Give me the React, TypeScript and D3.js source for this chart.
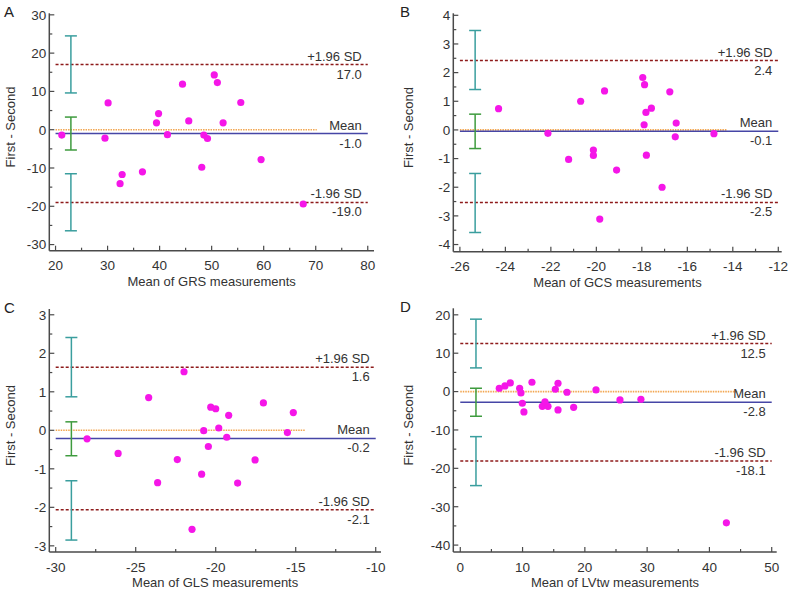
import React, { useEffect, useRef } from "react";
import * as d3 from "d3";

// Panel A: GRS
const grsMean = [21.2, 29.5, 30.1, 32.4, 32.8, 36.7, 39.4, 39.8, 41.5, 44.4, 45.6, 48.1, 48.5, 49.2, 50.5, 51.1, 52.2, 55.6, 59.5, 67.6];
const grsDiff = [-1.4, -2.2, 7.0, -14.1, -11.7, -11.0, 1.8, 4.2, -1.3, 11.9, 2.3, -9.8, -1.4, -2.3, 14.3, 12.3, 1.8, 7.1, -7.8, -19.4];
// Panel B: GCS
const gcsMean = [-24.3, -22.13, -21.22, -20.69, -20.13, -20.13, -19.85, -19.64, -19.11, -17.96, -17.88, -17.9, -17.82, -17.58, -17.8, -17.11, -16.77, -16.49, -16.53, -14.83];
const gcsDiff = [0.74, -0.12, -1.03, 1.0, -0.7, -0.89, -3.11, 1.36, -1.4, 1.83, 1.58, 0.18, 0.61, 0.76, -0.88, -2.0, 1.33, 0.24, -0.24, -0.13];
// Panel C: GLS
const glsMean = [-28.04, -26.1, -24.19, -23.63, -22.4, -21.98, -21.48, -20.88, -20.75, -20.46, -20.31, -20.0, -19.81, -19.31, -19.19, -18.63, -17.54, -17.02, -15.52, -15.15];
const glsDiff = [-0.22, -0.6, 0.85, -1.36, -0.76, 1.52, -2.57, -1.14, -0.01, -0.42, 0.6, 0.56, 0.06, -0.18, 0.39, -1.37, -0.77, 0.71, -0.06, 0.46];
// Panel D: LVtw
const lvtwMean = [6.26, 7.17, 8.03, 9.53, 9.74, 9.96, 10.22, 11.51, 13.17, 13.6, 14.08, 15.26, 15.69, 15.69, 17.13, 18.2, 21.79, 25.64, 29.0, 42.72];
const lvtwDiff = [0.87, 1.48, 2.26, 0.87, -0.35, -3.04, -5.3, 2.43, -3.83, -2.7, -3.83, 0.61, 2.17, -4.78, -0.17, -4.09, 0.43, -2.17, -2.0, -34.2];

// [lower limit, mean, upper limit]
const grsLimits = [-19.0, -1.0, 17.0];
const gcsLimits = [-2.53, -0.05, 2.42];
const glsLimits = [-2.06, -0.21, 1.64];
const lvtwLimits = [-18.1, -2.8, 12.5];

// confidence intervals: [lower lo, lower hi, mean lo, mean hi, upper lo, upper hi]
const grsCI = [-26.4, -11.5, -5.3, 3.3, 9.6, 24.5];
const gcsCI = [-3.58, -1.52, -0.65, 0.55, 1.41, 3.47];
const glsCI = [-2.85, -1.31, -0.66, 0.22, 0.87, 2.41];
const lvtwCI = [-24.5, -11.74, -6.43, 0.87, 6.17, 18.87];

const limitLabels = [
  ["-19.0", "-1.0", "17.0"],
  ["-2.5", "-0.1", "2.4"],
  ["-2.1", "-0.2", "1.6"],
  ["-18.1", "-2.8", "12.5"],
];

const panels = [
  { letter: "A", name: "GRS", xs: grsMean, ys: grsDiff, lim: grsLimits, ci: grsCI, ciX: 22.95, zeroEnd: 70.2,
    xDom: [18.8, 81.2], yDom: [-31.6, 30.4], xTicks: d3.range(20, 81, 10), xMinor: d3.range(25, 80, 10),
    yTicks: d3.range(-30, 31, 10), yMinor: d3.range(-25, 30, 10),
    box: { l: 49.3, r: 374, t: 13.3, b: 250.7 }, yLabX: 15, letterX: 4 },
  { letter: "B", name: "GCS", xs: gcsMean, ys: gcsDiff, lim: gcsLimits, ci: gcsCI, ciX: -25.33, zeroEnd: -14.24,
    xDom: [-26.29, -11.85], yDom: [-4.25, 4.07], xTicks: d3.range(-26, -11, 2), xMinor: d3.range(-25, -12, 2),
    yTicks: d3.range(-4, 5, 1), yMinor: d3.range(-3.5, 4, 1),
    box: { l: 453.3, r: 781.7, t: 13.3, b: 251.7 }, yLabX: 413, letterX: 400 },
  { letter: "C", name: "GLS", xs: glsMean, ys: glsDiff, lim: glsLimits, ci: glsCI, ciX: -29.02, zeroEnd: -14.42,
    xDom: [-30.4, -9.67], yDom: [-3.16, 3.15], xTicks: d3.range(-30, -9, 5), xMinor: d3.range(-27.5, -10, 5),
    yTicks: d3.range(-3, 4, 1), yMinor: d3.range(-2.5, 3, 1),
    box: { l: 49.3, r: 381, t: 309, b: 552 }, yLabX: 15, letterX: 4 },
  { letter: "D", name: "LVtw", xs: lvtwMean, ys: lvtwDiff, lim: lvtwLimits, ci: lvtwCI, ciX: 2.52, zeroEnd: 44.6,
    xDom: [-1.12, 50.8], yDom: [-41.8, 21.7], xTicks: d3.range(0, 51, 10), xMinor: d3.range(5, 50, 10),
    yTicks: d3.range(-40, 21, 10), yMinor: d3.range(-35, 20, 10),
    box: { l: 453.3, r: 776.7, t: 308.3, b: 552 }, yLabX: 413, letterX: 400 },
];

const FONT = "'Liberation Sans', Arial, sans-serif";

export default function App() {
  const svgRef = useRef<SVGSVGElement>(null);

  useEffect(() => {
    document.body.style.margin = "0";
    const svg = d3.select(svgRef.current).html("");
    svg.append("rect").attr("width", 790).attr("height", 589).attr("fill", "#fff");

    panels.forEach((p, pi) => {
      const { l, r, t, b } = p.box;
      const x = d3.scaleLinear().domain(p.xDom).range([l, r]);
      const y = d3.scaleLinear().domain(p.yDom).range([b, t]);
      const g = svg.append("g").style("font-family", FONT);
      const x0 = p.xTicks[0];
      const x1 = p.xTicks[p.xTicks.length - 1];
      const txtEnd = x(x1) - 6;

      // zero line
      g.append("line")
        .attr("x1", x(x0)).attr("x2", x(p.zeroEnd))
        .attr("y1", y(0)).attr("y2", y(0))
        .attr("stroke", "#f2a650").attr("stroke-width", 1.6)
        .attr("stroke-dasharray", "1.5,1");

      // mean line
      g.append("line")
        .attr("x1", x(x0)).attr("x2", x(x1))
        .attr("y1", y(p.lim[1])).attr("y2", y(p.lim[1]))
        .attr("stroke", "#4646a6").attr("stroke-width", 1.5);

      // limits of agreement
      [p.lim[0], p.lim[2]].forEach(v => {
        g.append("line")
          .attr("x1", x(x0)).attr("x2", x(x1))
          .attr("y1", y(v)).attr("y2", y(v))
          .attr("stroke", "#8e1b1b").attr("stroke-width", 1.5)
          .attr("stroke-dasharray", "3,2");
      });

      // confidence interval bars
      const ciCol = ["#3a9e9e", "#3e9b3e", "#3a9e9e"];
      [0, 1, 2].forEach(k => {
        const lo = p.ci[k * 2], hi = p.ci[k * 2 + 1];
        const cx = x(p.ciX);
        const bar = g.append("g").attr("stroke", ciCol[k]).attr("stroke-width", 1.5);
        bar.append("line").attr("x1", cx).attr("x2", cx).attr("y1", y(lo)).attr("y2", y(hi));
        bar.append("line").attr("x1", cx - 6).attr("x2", cx + 6).attr("y1", y(lo)).attr("y2", y(lo));
        bar.append("line").attr("x1", cx - 6).attr("x2", cx + 6).attr("y1", y(hi)).attr("y2", y(hi));
      });

      // labels on lines
      const lab = (txt: string, yy: number) =>
        g.append("text").attr("x", txtEnd).attr("y", yy).attr("text-anchor", "end")
          .attr("fill", "#333").style("font-size", "13px").text(txt);
      lab("+1.96 SD", y(p.lim[2]) - 4);
      lab(limitLabels[pi][2], y(p.lim[2]) + 14);
      lab("Mean", y(p.lim[1]) - 4);
      lab(limitLabels[pi][1], y(p.lim[1]) + 14);
      lab("-1.96 SD", y(p.lim[0]) - 4);
      lab(limitLabels[pi][0], y(p.lim[0]) + 14);

      // points
      g.selectAll(".pt")
        .data(p.xs.map((v, i) => [v, p.ys[i]]))
        .enter()
        .append("circle")
        .attr("cx", d => x(d[0]))
        .attr("cy", d => y(d[1]))
        .attr("r", 3.6)
        .attr("fill", "#f516e8");

      // axes
      const axCol = "#4a4a4a";
      g.append("line").attr("x1", l).attr("x2", l).attr("y1", t).attr("y2", b)
        .attr("stroke", axCol).attr("stroke-width", 1.5);
      g.append("line").attr("x1", l).attr("x2", r).attr("y1", b).attr("y2", b)
        .attr("stroke", axCol).attr("stroke-width", 1.5);

      p.yTicks.forEach(v => {
        g.append("line").attr("x1", l).attr("x2", l + 5).attr("y1", y(v)).attr("y2", y(v))
          .attr("stroke", axCol).attr("stroke-width", 1.2);
        g.append("text").attr("x", l - 3).attr("y", y(v)).attr("dy", "0.36em")
          .attr("text-anchor", "end").attr("fill", "#333").style("font-size", "13.5px").text(v);
      });
      p.yMinor.forEach(v => {
        g.append("line").attr("x1", l).attr("x2", l + 3).attr("y1", y(v)).attr("y2", y(v))
          .attr("stroke", axCol).attr("stroke-width", 1.2);
      });
      p.xTicks.forEach(v => {
        g.append("line").attr("x1", x(v)).attr("x2", x(v)).attr("y1", b).attr("y2", b - 5)
          .attr("stroke", axCol).attr("stroke-width", 1.2);
        g.append("text").attr("x", x(v)).attr("y", b + 19.5)
          .attr("text-anchor", "middle").attr("fill", "#333").style("font-size", "13.5px").text(v);
      });
      p.xMinor.forEach(v => {
        g.append("line").attr("x1", x(v)).attr("x2", x(v)).attr("y1", b).attr("y2", b - 3)
          .attr("stroke", axCol).attr("stroke-width", 1.2);
      });

      // axis titles
      g.append("text").attr("x", (l + r) / 2).attr("y", b + 35)
        .attr("text-anchor", "middle").attr("fill", "#333").style("font-size", "13px")
        .text(`Mean of ${p.name} measurements`);
      g.append("text")
        .attr("transform", `translate(${p.yLabX},${(t + b) / 2 - 5}) rotate(-90)`)
        .attr("text-anchor", "middle").attr("fill", "#333").style("font-size", "13px")
        .text("First - Second");

      // panel letter
      g.append("text").attr("x", p.letterX).attr("y", t + 4)
        .attr("fill", "#222").style("font-size", "15px").text(p.letter);
    });
  }, []);

  return <svg ref={svgRef} width={790} height={589} style={{ display: "block" }}></svg>;
}
